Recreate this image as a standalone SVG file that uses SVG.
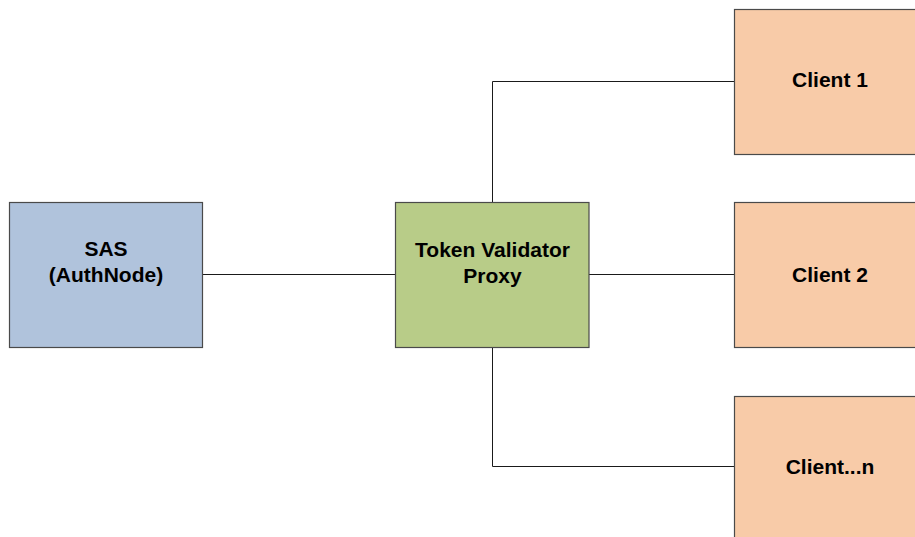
<svg xmlns="http://www.w3.org/2000/svg" width="915" height="537" viewBox="0 0 915 537">
  <style>
    .box { stroke: #4a4a4a; stroke-width: 1.2; }
    .sas { fill: #b0c3dc; }
    .proxy { fill: #b8cc88; }
    .client { fill: #f8cba8; }
    .label { font-family: "Liberation Sans", Arial, sans-serif; font-weight: bold; font-size: 21px; fill: #000; text-anchor: middle; }
    .wire { fill: none; stroke: #1a1a1a; stroke-width: 1; }
  </style>
  <rect width="915" height="537" fill="#ffffff"/>

  <!-- connectors -->
  <g id="connectors">
    <line class="wire" x1="202.5" y1="274.5" x2="395.5" y2="274.5"/>
    <line class="wire" x1="589" y1="274.5" x2="734" y2="274.5"/>
    <polyline class="wire" points="492.5,202 492.5,81.5 734,81.5"/>
    <polyline class="wire" points="492.5,347 492.5,466.5 734,466.5"/>
  </g>

  <g id="sas">
    <rect class="box sas" x="9.5" y="202.5" width="193" height="145"/>
    <text class="label" x="106" y="256">SAS</text>
    <text class="label" x="106" y="282">(AuthNode)</text>
  </g>

  <g id="proxy">
    <rect class="box proxy" x="395.5" y="202.5" width="193.5" height="145"/>
    <text class="label" x="492.5" y="256.5">Token Validator</text>
    <text class="label" x="492.5" y="282.5">Proxy</text>
  </g>

  <g id="client1">
    <rect class="box client" x="734.5" y="9.5" width="193" height="145"/>
    <text class="label" x="830" y="87">Client 1</text>
  </g>

  <g id="client2">
    <rect class="box client" x="734.5" y="202.5" width="193" height="145"/>
    <text class="label" x="830" y="282">Client 2</text>
  </g>

  <g id="clientn">
    <rect class="box client" x="734.5" y="396.5" width="193" height="145"/>
    <text class="label" x="830" y="474">Client...n</text>
  </g>
</svg>
